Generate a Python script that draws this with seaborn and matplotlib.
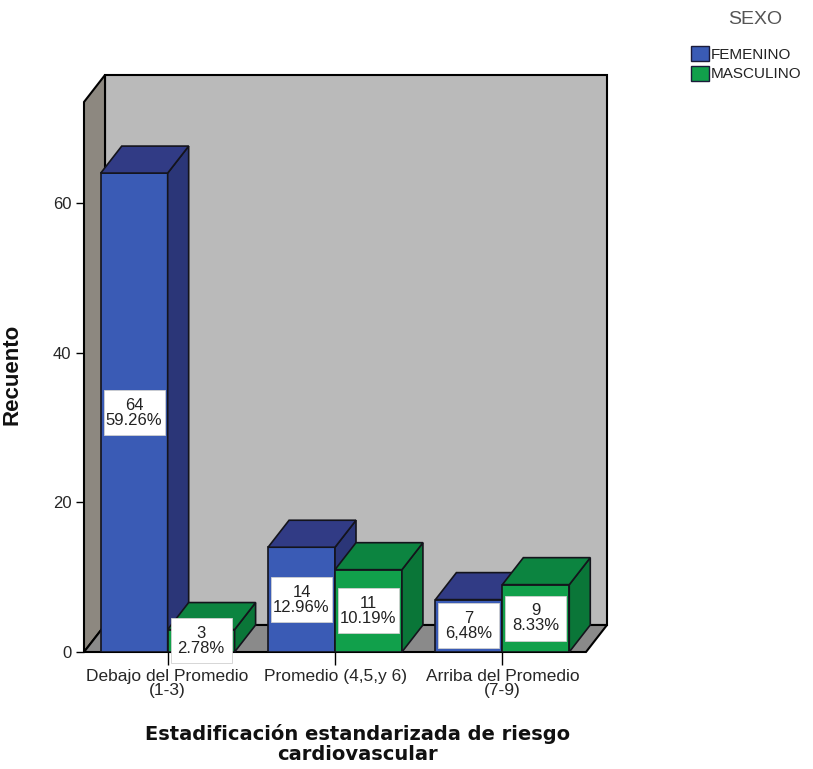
import numpy as np
import pandas as pd
import matplotlib
matplotlib.use("Agg")
import matplotlib.pyplot as plt
from matplotlib.patches import Polygon, Rectangle, Patch
import seaborn as sns

# Counts by cardiovascular risk category and sex (N = 108)
categorias = ["Debajo del Promedio\n(1-3)", "Promedio (4,5,y 6)", "Arriba del Promedio\n(7-9)"]
sexos = ["FEMENINO", "MASCULINO"]
femenino = [64, 14, 7]
masculino = [3, 11, 9]
pct_femenino = ["59.26%", "12.96%", "6,48%"]
pct_masculino = ["2.78%", "10.19%", "8.33%"]
y_ticks = [0, 20, 40, 60]

sns.set_style("white")
plt.rcParams["font.family"] = ["Liberation Sans", "DejaVu Sans"]

df = pd.DataFrame({
    "riesgo": categorias * 2,
    "sexo": [sexos[0]] * len(categorias) + [sexos[1]] * len(categorias),
    "n": femenino + masculino,
    "pct": pct_femenino + pct_masculino,
})

colores = {
    "FEMENINO": {"front": "#3a5bb5", "side": "#2b3678", "top": "#313b85"},
    "MASCULINO": {"front": "#11a04b", "side": "#0a7638", "top": "#0c8440"},
}
edge = "#14141c"

fig = plt.figure(figsize=(8.13, 7.69), dpi=100)
ax = fig.add_axes([84 / 813, 117 / 769, 502 / 813, 550 / 769])

sns.barplot(data=df, x="riesgo", y="n", hue="sexo", order=categorias,
            hue_order=sexos, palette=[colores[s]["front"] for s in sexos],
            saturation=1, width=0.8, gap=0, edgecolor=edge, linewidth=1.2,
            errorbar=None, legend=False, ax=ax)

y_top = 73.5
ax.set_xlim(-0.5, 2.5)
ax.set_ylim(0, y_top)
ax.set_facecolor("none")
for s in ax.spines.values():
    s.set_visible(False)

# depth of the 3D box, expressed in data units
p0 = ax.transData.transform((0, 0))
ddx, ddy = ax.transData.inverted().transform(p0 + np.array([21, 27]))
x0, x1 = ax.get_xlim()

# walls and floor
back = Rectangle((x0 + ddx, ddy), x1 - x0, y_top, facecolor="#bababa",
                 edgecolor="black", linewidth=1.5, zorder=0.5, clip_on=False)
left = Polygon([(x0, 0), (x0 + ddx, ddy), (x0 + ddx, y_top + ddy), (x0, y_top)],
               closed=True, facecolor="#8d8880", edgecolor="black",
               linewidth=1.5, zorder=0.6, clip_on=False)
floor = Polygon([(x0, 0), (x1, 0), (x1 + ddx, ddy), (x0 + ddx, ddy)],
                closed=True, facecolor="#8a8a8a", edgecolor="black",
                linewidth=1.5, zorder=0.7, clip_on=False)
for p in (back, left, floor):
    ax.add_patch(p)

# side and top faces for every bar, stacked left to right
bars = []
for sexo, cont in zip(sexos, ax.containers):
    sub = df[df["sexo"] == sexo].set_index("riesgo").loc[categorias]
    for rect, n, pct in zip(cont.patches, sub["n"], sub["pct"]):
        bars.append((rect, sexo, n, pct))
bars.sort(key=lambda b: b[0].get_x())

box_h = 45 / (ax.transData.transform((0, 1))[1] - p0[1])
inset = 3 / (ax.transData.transform((1, 0))[0] - p0[0])
for i, (rect, sexo, n, pct) in enumerate(bars):
    z = 2 + i * 0.3
    x, w, h = rect.get_x(), rect.get_width(), rect.get_height()
    rect.set_zorder(z)
    side = Polygon([(x + w, 0), (x + w + ddx, ddy), (x + w + ddx, h + ddy), (x + w, h)],
                   closed=True, facecolor=colores[sexo]["side"], edgecolor=edge,
                   linewidth=1.2, zorder=z + 0.1, clip_on=False)
    top = Polygon([(x, h), (x + ddx, h + ddy), (x + w + ddx, h + ddy), (x + w, h)],
                  closed=True, facecolor=colores[sexo]["top"], edgecolor=edge,
                  linewidth=1.2, zorder=z + 0.1, clip_on=False)
    ax.add_patch(side)
    ax.add_patch(top)
    ax.add_patch(Rectangle((x + inset, h / 2 - box_h / 2), w - 2 * inset, box_h,
                           facecolor="white", edgecolor="#d0d0d0", linewidth=0.6,
                           zorder=10, clip_on=False))
    ax.text(x + w / 2, h / 2, f"{n}\n{pct}", ha="center", va="center",
            fontsize=12, color="#222222", linespacing=1.0, zorder=11)

ax.set_yticks(y_ticks)
ax.tick_params(axis="y", direction="out", length=6, width=1, color="black",
               labelsize=12, pad=3, left=True)
ax.tick_params(axis="x", direction="out", length=9, width=1, color="black",
               labelsize=12.5, pad=3, bottom=True)
for lab in ax.get_xticklabels():
    lab.set_linespacing(0.95)

ax.set_ylabel("Recuento", fontsize=16, fontweight="bold", color="#111111")
ax.yaxis.set_label_coords(-0.122, 0.505)
ax.set_xlabel("Estadificación estandarizada de riesgo\ncardiovascular",
              fontsize=14, fontweight="bold", color="#111111",
              family=["DejaVu Sans"], linespacing=1.1)
ax.xaxis.set_label_coords(0.544, -0.167)
ax.xaxis.label.set_va("center")

# legend for sex, with its title set above the entries
fig.text(755 / 813, 1 - 19 / 769, "SEXO", ha="center", va="center",
         fontsize=14, color="#555555")
handles = [Patch(facecolor=colores[s]["front"], edgecolor="#1b1b3a", linewidth=1)
           for s in sexos]
leg = fig.legend(handles, sexos, loc="upper left",
                 bbox_to_anchor=(691 / 813, 1 - 46 / 769), frameon=False,
                 fontsize=11, handlelength=1.2, handleheight=1.15,
                 handletextpad=0.12, labelspacing=0.25,
                 borderpad=0, borderaxespad=0)
for t in leg.get_texts():
    t.set_color("#222222")

fig.savefig("out.png", dpi=100)
